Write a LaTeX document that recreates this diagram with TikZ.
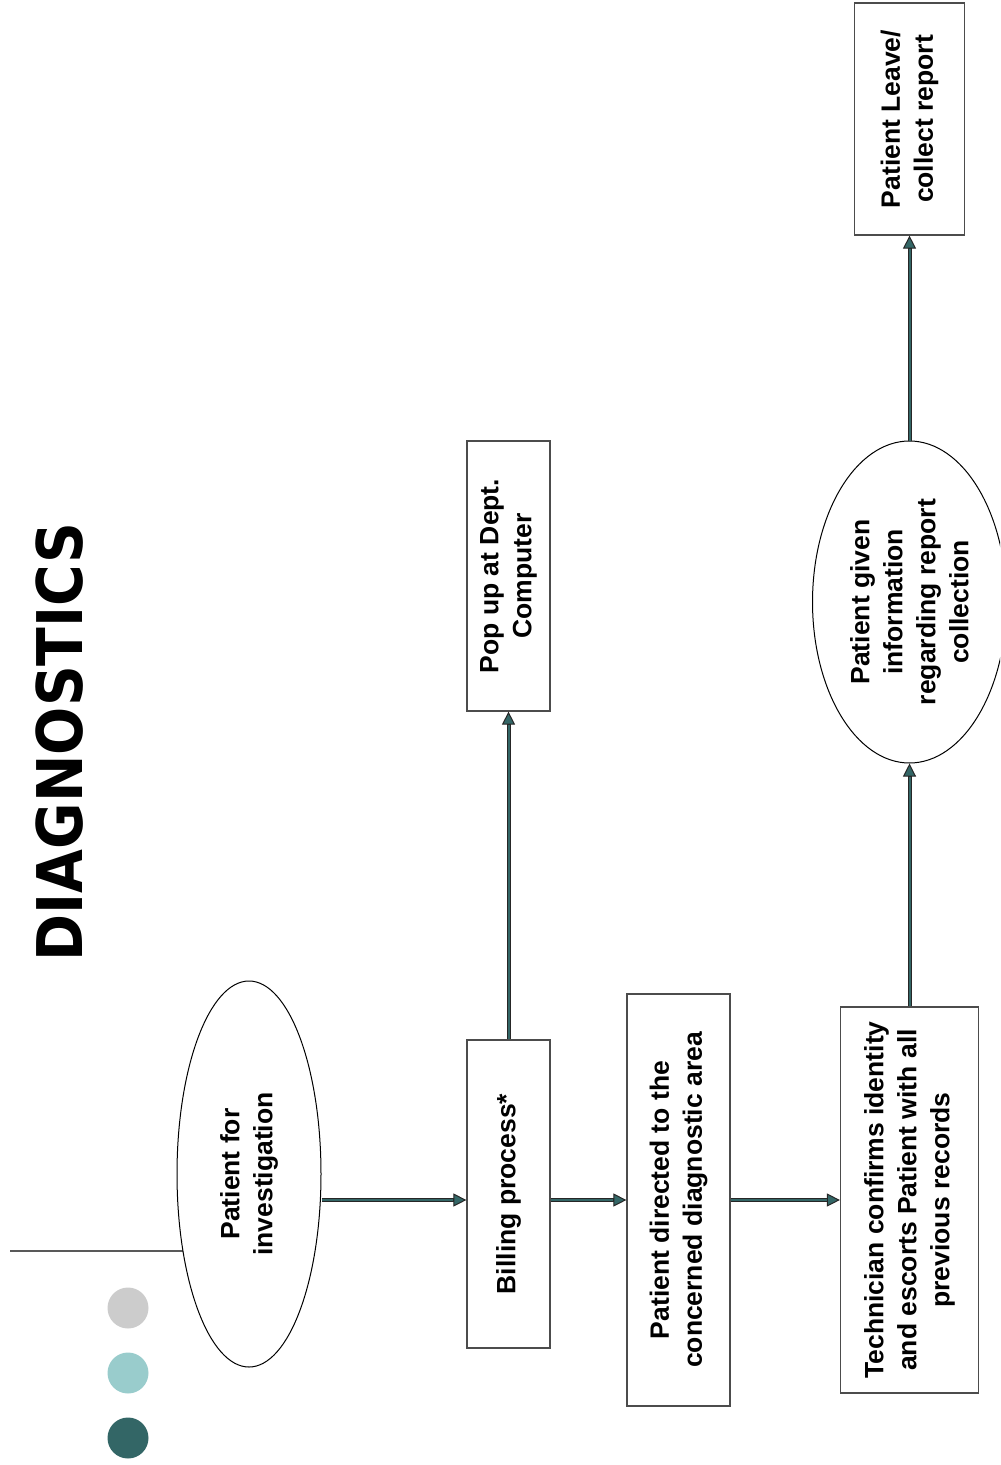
\documentclass[tikz,border=0pt]{standalone}
\usepackage{fontspec}
\setmainfont{Liberation Sans}
\newfontfamily\titlefont[FakeStretch=0.9]{DejaVu Sans}
\usetikzlibrary{shapes.geometric,arrows.meta}
\definecolor{tealdark}{HTML}{336666}
\definecolor{tealpale}{HTML}{99CCCC}
\definecolor{greypale}{HTML}{CCCCCC}

\begin{document}
\begin{tikzpicture}[x=0.5pt,y=-0.5pt,
  label text/.style={font=\bfseries\fontsize{13.25}{16.5}\selectfont,
    align=center, rotate=90, inner sep=0pt},
  stepbox/.style={label text, rectangle, draw=black!70, line width=0.6pt},
  oval/.style={label text, ellipse, draw=black, line width=0.5pt},
  dot/.style={circle, inner sep=0pt, minimum size=20.5pt},
  flow/.style={draw=black!85, line width=2pt,
    -{Triangle[length=6.5pt,width=6.5pt,fill=tealdark,line width=0.5pt]},
    postaction={draw=tealdark, line width=1pt, -, shorten >=6.5pt}},
  rule/.style={draw=black!65, line width=0.6pt}]
\clip (0,0) rectangle (1000,1465);

% heading
\node[rotate=90, inner sep=0pt,
  font=\titlefont\bfseries\fontsize{31.5}{36}\selectfont] (title) at (60,742) {DIAGNOSTICS};

% decorative rule and bullets
\coordinate (rulestart) at (10,1251);
\coordinate (ruleend) at (183,1251);
\draw[rule] (rulestart) -- (ruleend);
\node[dot, fill=greypale] (dotA) at (128,1308) {};
\node[dot, fill=tealpale] (dotB) at (128,1373) {};
\node[dot, fill=tealdark] (dotC) at (128,1438) {};

% process steps
\node[oval, minimum width=193pt, minimum height=72pt] (inv) at (249,1174)
  {Patient for\\investigation};
\node[stepbox, minimum width=154pt, minimum height=41.5pt] (bill) at (508.5,1194)
  {Billing process*};
\node[stepbox, minimum width=135pt, minimum height=41.5pt] (pop) at (508.5,576)
  {Pop up at Dept.\\Computer};
\node[stepbox, minimum width=206pt, minimum height=51.5pt] (dir) at (678.5,1200)
  {Patient directed to the\\concerned diagnostic area};
\node[stepbox, minimum width=193pt, minimum height=69pt] (tech) at (909.5,1200)
  {Technician confirms identity\\and escorts Patient with all\\previous records};
\node[oval, minimum width=161pt, minimum height=97pt] (info) at (909.5,602)
  {Patient given\\information\\regarding report\\collection};
\node[stepbox, minimum width=116pt, minimum height=55pt] (leave) at (909.5,119)
  {Patient Leave/\\collect report};

% connectors
\coordinate (row) at (0,1200);
\draw[flow] (inv.south |- row) -- (bill.north |- row);
\draw[flow] (bill.south |- row) -- (dir.north |- row);
\draw[flow] (dir.south |- row) -- (tech.north |- row);
\draw[flow] (bill.east) -- (pop.west);
\draw[flow] (tech.east) -- (info.west);
\draw[flow] (info.east) -- (leave.west);
\end{tikzpicture}
\end{document}
